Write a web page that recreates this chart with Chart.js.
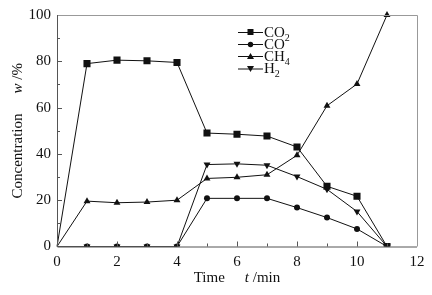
<!DOCTYPE html>
<html>
<head>
<meta charset="utf-8">
<script src="https://cdn.jsdelivr.net/npm/chart.js@4/dist/chart.umd.min.js"></script>
<style>
  html, body { margin: 0; padding: 0; background: #fff; }
  #wrap { width: 432px; height: 295px; }
</style>
</head>
<body>
<div id="wrap"><canvas id="myChart" width="432" height="295"></canvas></div>
<script>
var times = [0, 1, 2, 3, 4, 5, 6, 7, 8, 9, 10, 11];
var co2 = [0, 79, 80.5, 80.2, 79.5, 49, 48.5, 47.7, 43, 26, 21.7, 0];
var co = [0, 0, 0, 0, 0, 20.8, 20.8, 20.8, 16.8, 12.5, 7.6, 0];
var ch4 = [0, 19.6, 18.9, 19.2, 20, 29.4, 29.9, 31, 39.4, 60.8, 70.2, 100];
var h2 = [0, 0, 0, 0, 0, 35.4, 35.7, 35.1, 30.2, 24.7, 15.1, 0];

var serif = '"Liberation Serif", "Times New Roman", serif';

function pts(vals) {
    return vals.map(function(v, i){ return {x: times[i], y: v}; });
}
function radii(r) {
    return times.map(function(t, i){ return i === 0 ? 0 : r; });
}

function series(label, vals, style, r, rot) {
    return {
        label: label,
        data: pts(vals),
        borderColor: '#111',
        backgroundColor: '#111',
        borderWidth: 1,
        pointStyle: style,
        pointRadius: radii(r),
        pointRotation: rot || 0,
        pointBorderWidth: 0,
        clip: { left: 10, top: 10, right: 10, bottom: 0 },
        tension: 0
    };
}

// inward ticks, frame, axis titles, legend
var extras = {
    id: 'extras',
    afterDraw: function(chart) {
        var ctx = chart.ctx;
        var a = chart.chartArea;
        var xs = chart.scales.x, ys = chart.scales.y;
        ctx.save();
        // frame
        ctx.lineWidth = 1;
        ctx.strokeStyle = '#999';
        ctx.beginPath();
        ctx.moveTo(a.left, a.top + 0.5); ctx.lineTo(a.right + 0.5, a.top + 0.5);
        ctx.lineTo(a.right + 0.5, a.bottom);
        ctx.stroke();
        ctx.strokeStyle = '#555';
        ctx.beginPath();
        ctx.moveTo(a.left + 0.5, a.top); ctx.lineTo(a.left + 0.5, a.bottom + 0.5);
        ctx.lineTo(a.right, a.bottom + 0.5);
        ctx.stroke();
        // ticks
        ctx.beginPath();
        for (var t = 1; t < 12; t++) {
            var px = Math.round(xs.getPixelForValue(t)) + 0.5;
            var len = (t % 2 === 0) ? 5 : 3;
            ctx.moveTo(px, a.bottom); ctx.lineTo(px, a.bottom - len);
        }
        for (var v = 10; v < 100; v += 10) {
            var py = Math.round(ys.getPixelForValue(v)) + 0.5;
            var l2 = (v % 20 === 0) ? 5 : 3;
            ctx.moveTo(a.left, py); ctx.lineTo(a.left + l2, py);
        }
        ctx.stroke();

        // x title
        var fs = '15px ' + serif, fi = 'italic 15px ' + serif;
        ctx.fillStyle = '#111';
        ctx.textBaseline = 'middle';
        ctx.textAlign = 'left';
        var cx = (a.left + a.right) / 2;
        ctx.font = fs;
        var w1 = ctx.measureText('Time').width;
        ctx.font = fi;
        var w2 = ctx.measureText('t').width;
        ctx.font = fs;
        var w3 = ctx.measureText(' /min').width;
        var gap = 20;
        var x0 = cx - (w1 + gap + w2 + w3) / 2;
        var ty = 278;
        ctx.fillText('Time', x0, ty);
        ctx.font = fi;
        ctx.fillText('t', x0 + w1 + gap, ty);
        ctx.font = fs;
        ctx.fillText(' /min', x0 + w1 + gap + w2, ty);

        // y title
        ctx.save();
        ctx.translate(18, (a.top + a.bottom) / 2);
        ctx.rotate(-Math.PI / 2);
        var y1 = ctx.measureText('Concentration').width;
        ctx.font = fi;
        var y2 = ctx.measureText('w').width;
        ctx.font = fs;
        var y3 = ctx.measureText(' /%').width;
        var s0 = -(y1 + gap + y2 + y3) / 2;
        ctx.fillText('Concentration', s0, 0);
        ctx.font = fi;
        ctx.fillText('w', s0 + y1 + gap, 0);
        ctx.font = fs;
        ctx.fillText(' /%', s0 + y1 + gap + y2, 0);
        ctx.restore();

        // legend
        var names = [['CO', '2'], ['CO', ''], ['CH', '4'], ['H', '2']];
        var rowY = [32, 44, 56, 68.5];
        chart.data.datasets.forEach(function(ds, i) {
            var y = rowY[i];
            ctx.strokeStyle = '#111';
            ctx.beginPath();
            ctx.moveTo(238, y + 0.5); ctx.lineTo(263, y + 0.5);
            ctx.stroke();
            ctx.fillStyle = '#111';
            ctx.beginPath();
            var mx = 250.5;
            if (i === 0) { ctx.rect(mx - 3, y - 3, 6, 6); }
            else if (i === 1) { ctx.arc(mx, y + 0.5, 2.7, 0, Math.PI * 2); }
            else if (i === 2) { ctx.moveTo(mx, y - 3); ctx.lineTo(mx + 3.5, y + 3); ctx.lineTo(mx - 3.5, y + 3); }
            else { ctx.moveTo(mx, y + 3.5); ctx.lineTo(mx + 3.5, y - 2.5); ctx.lineTo(mx - 3.5, y - 2.5); }
            ctx.fill();
            ctx.font = fs;
            ctx.textBaseline = 'middle';
            ctx.fillText(names[i][0], 264, y + 1);
            var nw = ctx.measureText(names[i][0]).width;
            if (names[i][1]) {
                ctx.font = '10px ' + serif;
                ctx.fillText(names[i][1], 264 + nw, y + 6);
            }
        });
        ctx.restore();
    }
};

var ctx = document.getElementById('myChart');
var myChart = new Chart(ctx, {
    type: 'line',
    data: {
        datasets: [
            series('CO2', co2, 'rect', 5),
            series('CO', co, 'circle', 3),
            series('CH4', ch4, 'triangle', 4),
            series('H2', h2, 'triangle', 4, 180)
        ]
    },
    options: {
        responsive: false,
        animation: false,
        layout: {
            padding: { left: 0, right: 15, top: 13, bottom: 0 }
        },
        plugins: {
            legend: { display: false },
            tooltip: { enabled: false }
        },
        scales: {
            x: {
                type: 'linear',
                min: 0,
                max: 12,
                grid: { display: false, drawTicks: false },
                border: { display: false },
                ticks: {
                    stepSize: 2,
                    padding: 7,
                    color: '#111',
                    font: { family: serif, size: 15 }
                },
                afterFit: function(scale){ scale.height = 48.5; }
            },
            y: {
                min: 0,
                max: 100,
                grid: { display: false, drawTicks: false },
                border: { display: false },
                ticks: {
                    stepSize: 20,
                    padding: 6,
                    color: '#111',
                    font: { family: serif, size: 15 }
                },
                afterFit: function(scale){ scale.width = 57; }
            }
        }
    },
    plugins: [extras]
});
</script>
</body>
</html>
